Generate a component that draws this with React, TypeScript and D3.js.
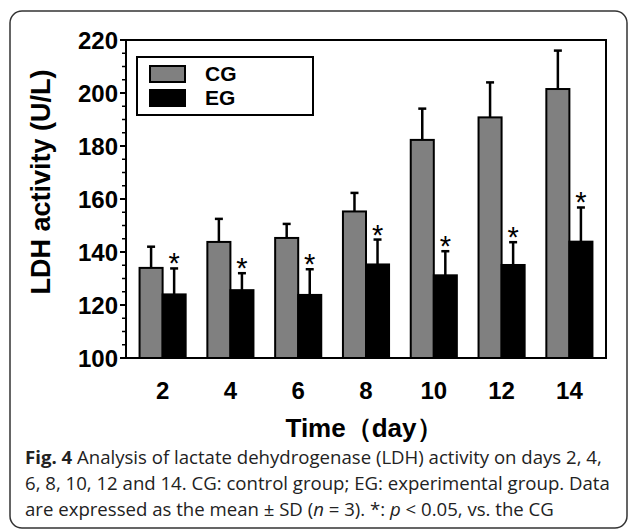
import React from "react";
import { scaleBand, scaleLinear, range } from "d3";

const days = ["2", "4", "6", "8", "10", "12", "14"];
const groups = ["CG", "EG"];
const cgMean = [134, 143.8, 145.3, 155.3, 182.3, 190.8, 201.5];
const cgSd = [8, 8.7, 5.3, 7, 11.8, 13.2, 14.5];
const egMean = [124, 125.6, 123.8, 135.3, 131.2, 135.1, 143.9];
const egSd = [9.8, 6.4, 9.7, 9.4, 9.1, 8.6, 12.9];
const yTicks = [100, 120, 140, 160, 180, 200, 220];
const captionLines = [
  "Analysis of lactate dehydrogenase (LDH) activity on days 2, 4,",
  "6, 8, 10, 12 and 14. CG: control group; EG: experimental group. Data",
];

const W = 629;
const H = 530;
const plot = { left: 126, right: 606, top: 40, bottom: 358 };
const chartFont = "'Liberation Sans', Arial, sans-serif";
const captionFont = "'Open Sans', 'Noto Sans', sans-serif";
const fills: Record<string, string> = { CG: "#808080", EG: "#000000" };

const App = () => {
  const x = scaleBand<string>()
    .domain(days)
    .range([plot.left, plot.right])
    .paddingInner(0.32)
    .paddingOuter(0.2);
  const xg = scaleBand<string>().domain(groups).range([0, x.bandwidth()]);
  const y = scaleLinear().domain([100, 220]).range([plot.bottom, plot.top]);
  const minor = range(100, 221, 5).filter((v) => v % 20 !== 0);

  const series = [
    { key: "CG", mean: cgMean, sd: cgSd },
    { key: "EG", mean: egMean, sd: egSd },
  ];

  return (
    <svg
      width={W}
      height={H}
      style={{ position: "absolute", left: 0, top: 0, background: "#fff" }}
    >
      <rect
        x={10}
        y={11}
        width={617}
        height={517}
        rx={12}
        fill="none"
        stroke="#333"
        strokeWidth={1.5}
      />

      {/* bars and error bars */}
      {series.map((s) =>
        days.map((d, i) => {
          const bx = (x(d) ?? 0) + (xg(s.key) ?? 0);
          const bw = xg.bandwidth();
          const top = y(s.mean[i]);
          const cap = y(s.mean[i] + s.sd[i]);
          const cx = bx + bw / 2;
          return (
            <g key={s.key + d}>
              <line x1={cx} x2={cx} y1={top} y2={cap} stroke="#000" strokeWidth={2.5} />
              <line x1={cx - 4} x2={cx + 4} y1={cap} y2={cap} stroke="#000" strokeWidth={2.5} />
              <rect
                x={bx}
                y={top}
                width={bw}
                height={plot.bottom - top}
                fill={fills[s.key]}
                stroke="#000"
                strokeWidth={2}
              />
              {s.key === "EG" && (
                <text
                  x={cx}
                  y={cap + 5}
                  textAnchor="middle"
                  fontFamily={chartFont}
                  fontSize={29}
                  fill="#000"
                >
                  *
                </text>
              )}
            </g>
          );
        })
      )}

      {/* plot frame */}
      <rect
        x={plot.left}
        y={plot.top}
        width={plot.right - plot.left}
        height={plot.bottom - plot.top}
        fill="none"
        stroke="#000"
        strokeWidth={2}
      />

      {/* y axis ticks */}
      {yTicks.map((t) => (
        <g key={t}>
          <line x1={plot.left - 6} x2={plot.left} y1={y(t)} y2={y(t)} stroke="#000" strokeWidth={2} />
          <text
            x={plot.left - 8}
            y={y(t)}
            dy="0.36em"
            textAnchor="end"
            fontFamily={chartFont}
            fontWeight="bold"
            fontSize={24}
          >
            {t}
          </text>
        </g>
      ))}
      {minor.map((t) => (
        <line key={t} x1={plot.left - 4} x2={plot.left} y1={y(t)} y2={y(t)} stroke="#000" strokeWidth={1.5} />
      ))}

      {/* x labels */}
      {days.map((d) => (
        <text
          key={d}
          x={(x(d) ?? 0) + x.bandwidth() / 2}
          y={399}
          textAnchor="middle"
          fontFamily={chartFont}
          fontWeight="bold"
          fontSize={24}
        >
          {d}
        </text>
      ))}

      <text
        x={364}
        y={437}
        textAnchor="middle"
        fontFamily={chartFont}
        fontWeight="bold"
        fontSize={26}
      >
        Time（day）
      </text>
      <text
        transform="translate(50,182) rotate(-90)"
        textAnchor="middle"
        fontFamily={chartFont}
        fontWeight="bold"
        fontSize={27}
      >
        LDH activity (U/L)
      </text>

      {/* legend */}
      <rect x={137} y={57} width={176} height={58} fill="none" stroke="#000" strokeWidth={2} />
      {groups.map((g, i) => (
        <g key={g}>
          <rect x={150} y={66 + i * 24} width={35} height={16} fill={fills[g]} stroke="#000" strokeWidth={2} />
          <text
            x={205}
            y={74 + i * 24}
            dy="0.35em"
            fontFamily={chartFont}
            fontWeight="bold"
            fontSize={21}
          >
            {g}
          </text>
        </g>
      ))}

      {/* caption */}
      <text x={25} y={464} fontFamily={captionFont} fontSize={18.6} fill="#222">
        <tspan fontWeight="bold">Fig. 4</tspan> {captionLines[0]}
      </text>
      <text x={25} y={490} fontFamily={captionFont} fontSize={18.6} fill="#222">
        {captionLines[1]}
      </text>
      <text x={25} y={516} fontFamily={captionFont} fontSize={18.6} fill="#222">
        are expressed as the mean ± SD (<tspan fontStyle="italic">n</tspan> = 3). *:{" "}
        <tspan fontStyle="italic">p</tspan> &lt; 0.05, vs. the CG
      </text>
    </svg>
  );
};

export default App;
